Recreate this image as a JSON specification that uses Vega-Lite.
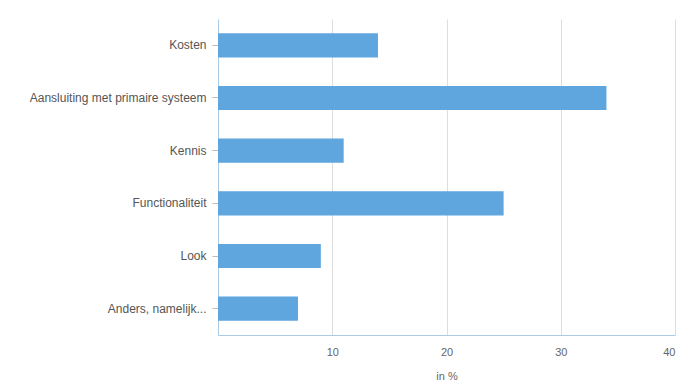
{
  "$schema": "https://vega.github.io/schema/vega-lite/v6.json",
  "autosize": "none",
  "width": 457,
  "height": 316,
  "padding": {"left": 218, "top": 19, "right": 7, "bottom": 50},
  "background": "white",
  "data": {"values": [
    {"reden": "Kosten", "pct": 14},
    {"reden": "Aansluiting met primaire systeem", "pct": 34},
    {"reden": "Kennis", "pct": 11},
    {"reden": "Functionaliteit", "pct": 25},
    {"reden": "Look", "pct": 9},
    {"reden": "Anders, namelijk...", "pct": 7}
  ]},
  "mark": {"type": "bar", "color": "#5fa5de"},
  "encoding": {
    "y": {
      "field": "reden", "type": "nominal", "sort": null,
      "scale": {"paddingInner": 0.54, "paddingOuter": 0.27},
      "axis": {"title": null, "labelFont": "Liberation Sans", "labelFontSize": 12, "labelColor": "#555555",
               "tickColor": "#bbbbbb", "tickSize": 6, "labelPadding": 6, "domainColor": "#a9cbe6", "grid": false}
    },
    "x": {
      "field": "pct", "type": "quantitative",
      "scale": {"domain": [0, 40]},
      "axis": {"title": "in %", "values": [10, 20, 30, 40],
               "labelFont": "Liberation Sans", "labelFontSize": 11, "labelColor": "#666666",
               "titleFont": "Liberation Sans", "titleFontSize": 11, "titleFontWeight": "normal", "titleColor": "#666666",
               "ticks": false, "labelPadding": 11, "titlePadding": 13,
               "domainColor": "#a9cbe6", "gridColor": "#dddddd"}
    }
  },
  "config": {"view": {"stroke": null}}
}
